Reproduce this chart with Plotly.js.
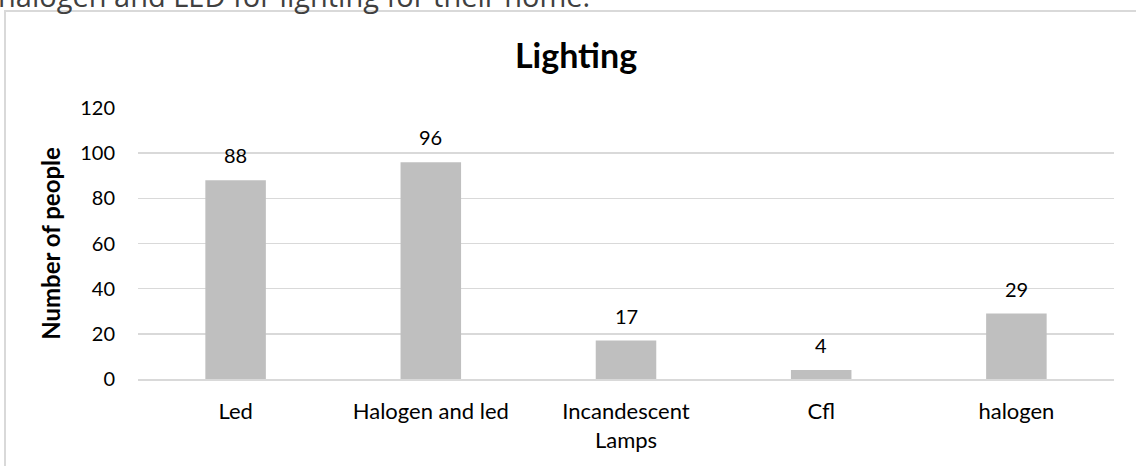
<!DOCTYPE html>
<html>
<head>
<meta charset="utf-8">
<script src="https://cdn.plot.ly/plotly-3.0.1.min.js"></script>
<style>
html,body{margin:0;padding:0;background:#fff;}
#chart{width:1136px;height:466px;}
</style>
</head>
<body>
<div id="chart"></div>
<script>
const categories = ["Led", "Halogen and led", "Incandescent<br>Lamps", "Cfl", "halogen"];
const values = [88, 96, 17, 4, 29];
const yTicks = [0, 20, 40, 60, 80, 100, 120];
const chartTitle = "Lighting";
const yTitle = "Number of people";
const pageText = "halogen and LED for lighting for their home.";

const W = 1136, H = 466;
const m = {l: 138, r: 22, t: 108, b: 87};
const pw = W - m.l - m.r, ph = H - m.t - m.b;
const px = x => (x - m.l) / pw;
const py = y => 1 - (y - m.t) / ph;
const FONT = "Lato, 'Open Sans', sans-serif";

const trace = {
  type: "bar",
  x: categories,
  y: values,
  marker: {color: "#bfbfbf"},
  hoverinfo: "none"
};

const valueLabels = values.map((v, i) => ({
  x: categories[i], y: v, xref: "x", yref: "y",
  text: String(v), showarrow: false,
  xanchor: "center", yanchor: "middle", yshift: 25,
  font: {family: FONT, size: 20, color: "#000"}
}));

const layout = {
  width: W, height: H,
  margin: m,
  paper_bgcolor: "#fff",
  plot_bgcolor: "#fff",
  showlegend: false,
  bargap: 0.69,
  font: {family: FONT, size: 20, color: "#000"},
  title: {
    text: "<b>" + chartTitle + "</b>",
    font: {family: FONT, size: 34, color: "#000"},
    x: px(576), xref: "paper", xanchor: "center",
    y: 1 - 56 / H, yref: "container", yanchor: "middle"
  },
  xaxis: {
    type: "category",
    showgrid: false,
    showline: true,
    linecolor: "#d9d9d9",
    linewidth: 1.5,
    ticks: "",
    tickfont: {family: FONT, size: 22, color: "#000"},
    ticklabelstandoff: 12
  },
  yaxis: {
    range: [0, 120],
    tickvals: yTicks,
    showgrid: true,
    gridcolor: "#d9d9d9",
    gridwidth: 1.5,
    zeroline: false,
    showline: false,
    ticks: "",
    tickfont: {family: FONT, size: 20, color: "#000"},
    ticklabelstandoff: 22,
    title: {
      text: "<b>" + yTitle + "</b>",
      font: {family: FONT, size: 24, color: "#000"},
      standoff: 12
    }
  },
  shapes: [
    {type: "rect", xref: "paper", yref: "paper",
     x0: px(5), x1: px(1150), y0: py(490), y1: py(11),
     line: {color: "#d9d9d9", width: 2}, fillcolor: "rgba(0,0,0,0)", layer: "below"}
  ],
  annotations: [
    {text: pageText, xref: "paper", yref: "paper",
     x: px(-4), y: py(-5), xanchor: "left", yanchor: "middle",
     showarrow: false,
     font: {family: "'Open Sans', sans-serif", size: 29, color: "#404040"}}
  ].concat(valueLabels)
};

Plotly.newPlot("chart", [trace], layout, {displayModeBar: false, staticPlot: true});
</script>
</body>
</html>
